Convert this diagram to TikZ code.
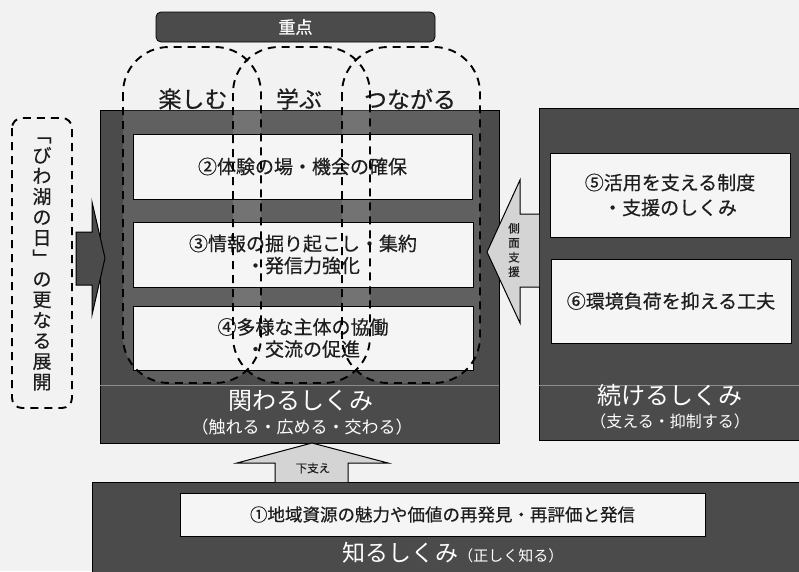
\documentclass[tikz,border=0pt]{standalone}
\usepackage{fontspec}
\setmainfont{Noto Sans CJK JP}
\newfontfamily\medfont{Noto Sans CJK JP}[FakeBold=0.5]
\newcommand{\myfs}[1]{\fontsize{#1}{#1}\selectfont}
\definecolor{bgc}{HTML}{F2F2F2}
\definecolor{darkc}{HTML}{4B4B4B}
\definecolor{boxc}{HTML}{F5F5F5}
\definecolor{arrowc}{HTML}{D4D4D4}
\definecolor{txtc}{HTML}{1E1E1E}
\definecolor{sepc}{HTML}{8C8C8C}
\tikzset{
  darkbox/.style={draw=black, line width=0.8pt, fill=darkc, inner sep=0pt},
  whitebox/.style={draw=black, line width=0.8pt, fill=boxc, inner sep=0pt, text=txtc, align=center, font=\medfont\myfs{19}},
  lobe/.style={draw=black, line width=1.9pt, dash pattern=on 8pt off 6pt, rounded corners=46pt},
  lobefill/.style={fill=white, fill opacity=0.12, rounded corners=46pt},
  titletext/.style={text=white, inner sep=0pt},
  lobelabel/.style={text=txtc, inner sep=0pt, font=\medfont\myfs{23}},
  blockarrow/.style={draw=black, line width=1pt, line join=miter},
  sepline/.style={draw=sepc, line width=0.8pt}
}
\begin{document}
\begin{tikzpicture}[x=1pt,y=-1pt]
\useasboundingbox (0,0) rectangle (799,571);
\fill[bgc] (0,0) rectangle (799,571);
\clip (0,0) rectangle (799,571);

% dark frames
\node[darkbox, minimum width=718pt, minimum height=100pt] (shiru) at (451,532) {};
\node[darkbox, minimum width=399pt, minimum height=333pt] (kakawaru) at (299.5,276.5) {};
\node[darkbox, minimum width=271pt, minimum height=332pt] (tsuzukeru) at (674.5,274) {};

% lighter lobe areas inside the main frame
\begin{scope}
  \clip (100,110) rectangle (499,443);
  \fill[lobefill] (123,47) rectangle (261,383);
  \fill[lobefill] (233,47) rectangle (370,383);
  \fill[lobefill] (342,47) rectangle (480,383);
\end{scope}

\draw[sepline] (100,385) -- (499,385);
\draw[sepline] (539,385) -- (799,385);

% heading
\node[fill=darkc, draw=black, line width=0.8pt, rounded corners=5pt, minimum width=279pt, minimum height=30pt, text=white, font=\medfont\myfs{17}, inner sep=0pt] (juten) at (295.5,27) {重点};

% white boxes
\node[whitebox, minimum width=339pt, minimum height=65pt] (b2) at (302.5,166.5) {②体験の場・機会の確保};
\node[whitebox, minimum width=340pt, minimum height=65pt] (b3) at (303,254.5) {③情報の掘り起こし・集約\\[3pt]・発信力強化};
\node[whitebox, minimum width=340pt, minimum height=64pt] (b4) at (303,338) {④多様な主体の協働\\[3pt]・交流の促進};
\node[whitebox, minimum width=240pt, minimum height=84pt] (b5) at (670,195) {⑤活用を支える制度\\[6pt]・支援のしくみ};
\node[whitebox, minimum width=240pt, minimum height=84pt] (b6) at (671,301) {⑥環境負荷を抑える工夫};
\node[whitebox, minimum width=525pt, minimum height=43pt, font=\medfont\myfs{17.5}] (b1) at (442.5,514.5) {①地域資源の魅力や価値の再発見・再評価と発信};

% titles
\node[titletext, font=\myfs{24}] (kt) at (301,401) {関わるしくみ};
\node[titletext, font=\myfs{17}] (ks) at (302,427) {（触れる・広める・交わる）};
\node[titletext, font=\myfs{24}] (tt) at (670,395) {続けるしくみ};
\node[titletext, font=\myfs{16}] (ts) at (670,421) {（支える・抑制する）};
\node[titletext, font=\myfs{23}] (st) at (453,553) {知るしくみ{\myfs{15}（正しく知る）}};

% lobe labels
\node[lobelabel] (l1) at (193,99) {楽しむ};
\node[lobelabel] (l2) at (299,99) {学ぶ};
\node[lobelabel] (l3) at (410,99) {つながる};

% dashed lobes
\draw[lobe] (123,47) rectangle (261,383);
\draw[lobe] (233,47) rectangle (370,383);
\draw[lobe] (342,47) rectangle (480,383);

% left dashed box with vertical text
\draw[draw=black, line width=1.9pt, dash pattern=on 8pt off 6pt, rounded corners=10pt] (12,118) rectangle (72,408);
\node[text=txtc, align=center, inner sep=0pt, font={\medfont\fontsize{19}{20.6}\selectfont}] (biwako) at (42,264)
 {﹁\\び\\わ\\湖\\の\\日\\﹂\\の\\更\\な\\る\\展\\開};

% left dark arrow
\draw[blockarrow, fill=darkc] (76,232) -- (92,232) -- (92,202) -- (105,258) -- (92,315) -- (92,285) -- (76,285) -- cycle;

% right light arrow (side support)
\draw[blockarrow, fill=arrowc] (539,214) -- (520,214) -- (520,180) -- (487,252) -- (520,323) -- (520,287) -- (539,287);
\node[text=txtc, align=center, inner sep=0pt, font={\medfont\fontsize{11.5}{14.5}\selectfont}] (sokumen) at (514,250) {側\\面\\支\\援};

% bottom light arrow (base support)
\draw[blockarrow, fill=arrowc] (275,482) -- (275,463) -- (237,463) -- (312,443) -- (388,463) -- (348,463) -- (348,482);
\node[text=txtc, inner sep=0pt, font=\medfont\myfs{11.5}] (shitazasae) at (313,468) {下支え};
\end{tikzpicture}
\end{document}
